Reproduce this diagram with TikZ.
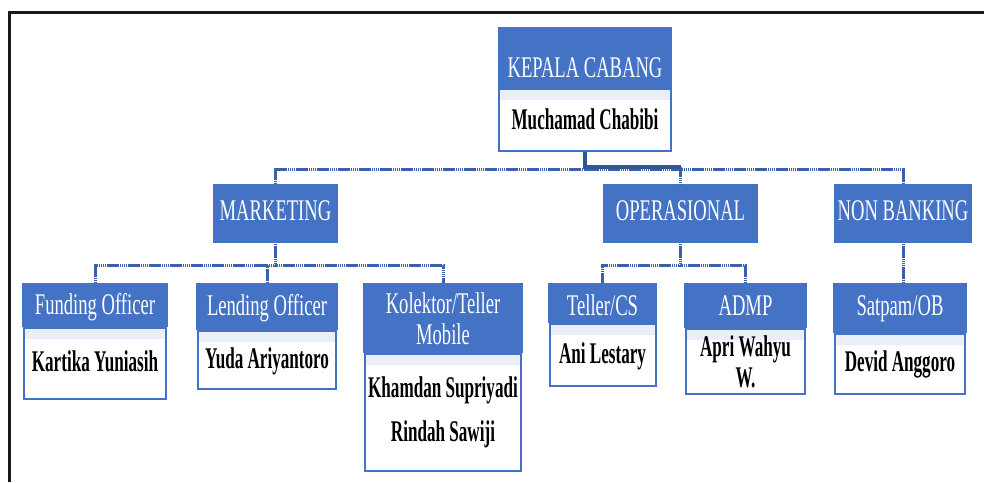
\documentclass[tikz,border=0pt]{standalone}
\usepackage{fontspec}
\setmainfont{Liberation Serif}[FakeStretch=0.62]
\newfontfamily\namefont{Liberation Serif Bold}[FakeStretch=0.57]
\usepackage{xcolor}
\definecolor{hdblue}{HTML}{4472C4}
\definecolor{lnblue}{HTML}{3B5FA8}
\definecolor{dkblue}{HTML}{2F5597}
\definecolor{bandcol}{HTML}{E9EEF8}

\begin{document}
\begin{tikzpicture}[
    x=0.5pt, y=-0.5pt,
    head/.style={rectangle, fill=hdblue, text=white, inner sep=0pt, anchor=north, align=center, font=\fontsize{15}{15.5}\selectfont},
    body/.style={rectangle, draw=hdblue, line width=1pt, fill=white, inner sep=0pt, anchor=north, align=center, font=\namefont\fontsize{15}{15.5}\selectfont,
        path picture={\fill[bandcol] (path picture bounding box.north west) rectangle ([yshift=-5.5pt]path picture bounding box.north east);}},
    conn/.style={draw=lnblue, line width=1.5pt, dash pattern=on 0.8pt off 0.25pt},
    trunk/.style={draw=dkblue, line width=2.4pt}
]
\useasboundingbox (0,0) rectangle (984,482);
% bingkai
\draw[line width=1.5pt, black!90] (9,482) -- (9,12) -- (984,12);

% kepala cabang
\node[head, minimum width=87pt, text height=25pt, text depth=5.5pt] (kepala) at (585,27) {KEPALA CABANG};
\node[body, minimum width=86pt, text height=20pt, text depth=11pt] (kepalanama) at (585,88) {Muchamad Chabibi};

% bagian
\node[head, minimum width=62.5pt, text height=18pt, text depth=11.5pt] (marketing) at (275.5,184) {MARKETING};
\node[head, minimum width=77.5pt, text height=18pt, text depth=11.5pt] (operasional) at (680.5,184) {OPERASIONAL};
\node[head, minimum width=69pt, text height=18pt, text depth=11.5pt] (nonbanking) at (903,184) {NON BANKING};

% staf
\node[head, minimum width=73pt, text height=15.5pt, text depth=6.5pt] (funding) at (95,283) {Funding Officer};
\node[body, minimum width=71pt, text height=21.5pt, text depth=14pt] (fundingnama) at (95,327) {Kartika Yuniasih};

\node[head, minimum width=71pt, text height=16pt, text depth=7.5pt] (lending) at (267,283) {Lending Officer};
\node[body, minimum width=69pt, text height=18.5pt, text depth=10.5pt] (lendingnama) at (267,330) {Yuda Ariyantoro};

\node[head, minimum width=80pt, minimum height=35pt] (kolektor) at (443,283) {Kolektor/Teller\\Mobile};
\node[body, minimum width=78pt, minimum height=58.5pt, font=\namefont\fontsize{15}{22}\selectfont] (kolektornama) at (443,353) {Khamdan Supriyadi\\Rindah Sawiji};

\node[head, minimum width=54.5pt, text height=16pt, text depth=4pt] (teller) at (602.5,283) {Teller/CS};
\node[body, minimum width=53pt, text height=19.5pt, text depth=11.5pt] (tellernama) at (602.5,323) {Ani Lestary};

\node[head, minimum width=61.5pt, text height=16pt, text depth=6.5pt] (admp) at (745.5,283) {ADMP};
\node[body, minimum width=59.5pt, minimum height=32.5pt] (admpnama) at (745.5,328) {Apri Wahyu\\W.};

\node[head, minimum width=67pt, text height=16pt, text depth=9pt] (satpam) at (900,283) {Satpam/OB};
\node[body, minimum width=65pt, text height=18.5pt, text depth=11.5pt] (satpamnama) at (900,333) {Devid Anggoro};

% garis kepala ke bagian
\draw[conn] (kepalanama.south) -- ++(0,17) -| (marketing.north);
\draw[conn] (kepalanama.south) -- ++(0,17) -| (nonbanking.north);
\draw[conn] ([yshift=8.5pt]operasional.north) -- (operasional.north);
\draw[trunk] (kepalanama.south) |- ([yshift=8.5pt]operasional.north);

% garis bagian ke staf
\draw[conn] (marketing.south) -- ++(0,22) -| (funding.north);
\draw[conn] (marketing.south) -- ++(0,22) -| (lending.north);
\draw[conn] (marketing.south) -- ++(0,22) -| (kolektor.north);
\draw[conn] (operasional.south) -- ++(0,22) -| (teller.north);
\draw[conn] (operasional.south) -- ++(0,22) -| (admp.north);
\draw[conn] (nonbanking.south) -- (nonbanking.south |- satpam.north);
\end{tikzpicture}
\end{document}
